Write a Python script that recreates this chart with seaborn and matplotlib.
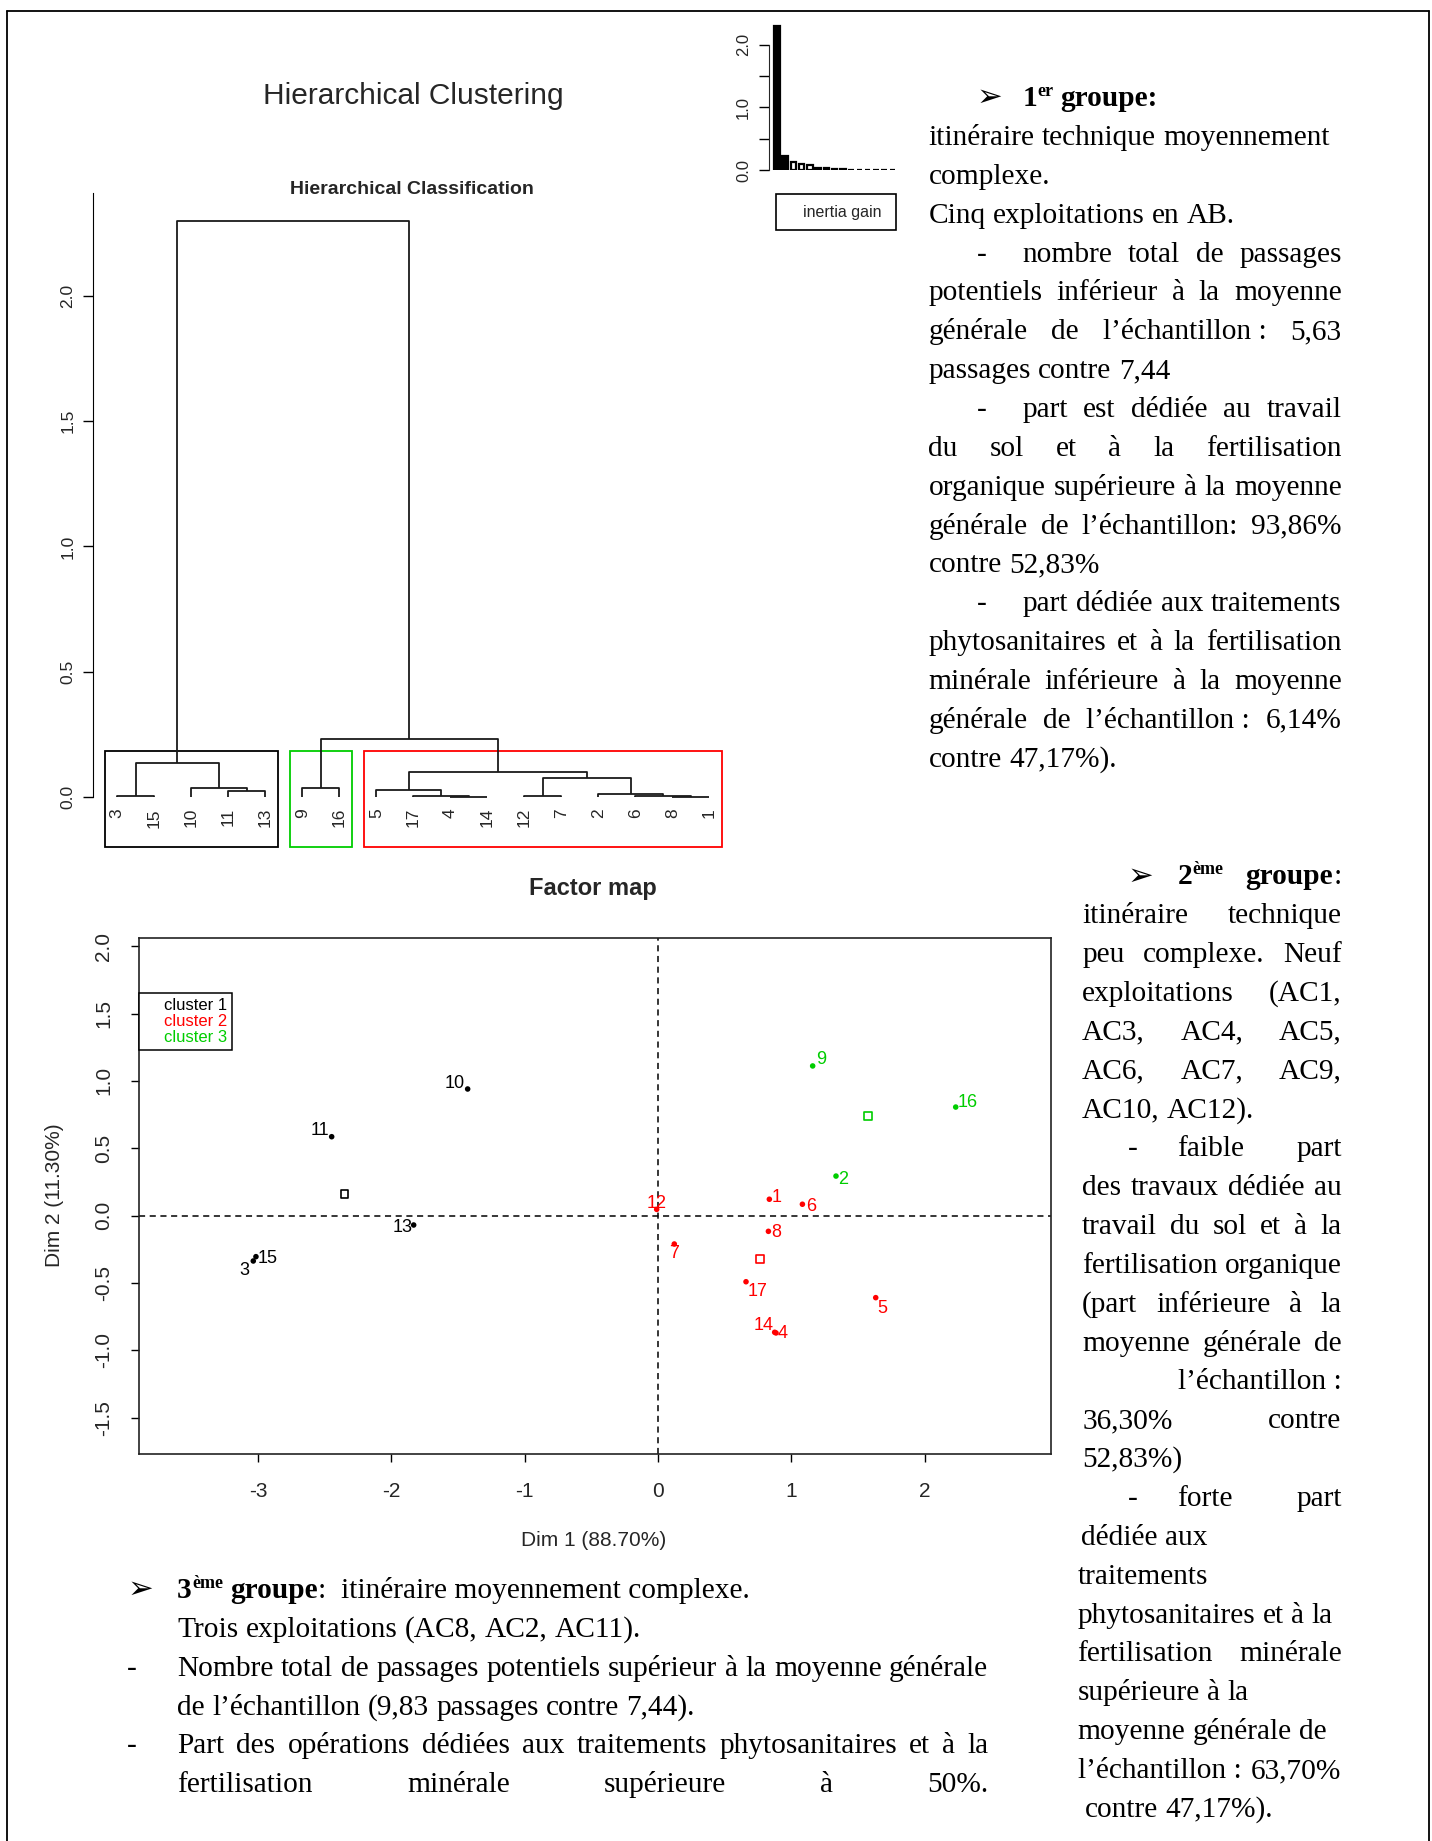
import numpy as np
import pandas as pd
import matplotlib
matplotlib.use("Agg")
import matplotlib.pyplot as plt
import seaborn as sns
from matplotlib.lines import Line2D
from matplotlib.patches import Rectangle

W, H = 1432, 1841
S = W / 1220  # text positions were read on a 1220 px wide preview

# --- HCPC tree: leaf order, cluster of each leaf, merges (R hclust style) ---
leaf_order = [3, 15, 10, 11, 13, 9, 16, 5, 17, 4, 14, 12, 7, 2, 6, 8, 1]
tree_cluster = [1, 1, 1, 1, 1, 3, 3, 2, 2, 2, 2, 2, 2, 2, 2, 2, 2]
merge_a = [-4, -8, -12, -3, -17, -6, -2, -11, -5, -10, -9, 3, 9, 4, 11, 14]
merge_b = [-14, -1, -7, -15, 1, 2, 6, -13, 5, 8, -16, 7, 12, 10, 13, 15]
merge_h = [0.001, 0.001, 0.002, 0.003, 0.004, 0.005, 0.011, 0.023, 0.027,
           0.034, 0.035, 0.075, 0.10, 0.135, 0.23, 2.30]

# --- factor map ---
ind = list(range(1, 18))
dim1 = [0.835, 1.335, -3.036, 0.885, 1.633, 1.083, 0.122, 0.828, 1.160,
        -1.428, -2.448, -0.010, -1.833, 0.875, -3.016, 2.233, 0.660]
dim2 = [0.122, 0.294, -0.336, -0.870, -0.608, 0.085, -0.210, -0.116, 1.111,
        0.940, 0.586, 0.047, -0.069, -0.865, -0.304, 0.806, -0.490]
clust = [2, 3, 1, 2, 2, 2, 2, 2, 3, 1, 1, 2, 1, 2, 1, 3, 2]

# label offsets (pixels) around each point, as placed in the original
lab_off = {1: (7, 2), 2: (7, -3), 3: (-9, -10), 4: (7, -1), 5: (7, -11),
           6: (9, -2), 7: (0, -10), 8: (8, -1), 9: (9, 6), 10: (-13, 5),
           11: (-12, 6), 12: (0, 6), 13: (-11, -3), 14: (-11, 7),
           15: (12, -2), 16: (12, 5), 17: (12, -10)}

# --- text blocks: (text, x start in preview px, mode) ---
col1 = [
    ("itinéraire technique moyennement", 791, "l"),
    ("complexe.", 791, "l"),
    ("Cinq exploitations en AB.", 791, "l"),
    ("- nombre total de passages", 871, "j"),
    ("potentiels inférieur à la moyenne", 791, "j"),
    ("générale de l’échantillon\u00a0: 5,63", 791, "j"),
    ("passages contre 7,44", 791, "l"),
    ("- part est dédiée au travail", 871, "j"),
    ("du sol et à la fertilisation", 791, "j"),
    ("organique supérieure à la moyenne", 791, "j"),
    ("générale de l’échantillon: 93,86%", 791, "j"),
    ("contre 52,83%", 791, "l"),
    ("- part dédiée aux traitements", 871, "j"),
    ("phytosanitaires et à la fertilisation", 791, "j"),
    ("minérale inférieure à la moyenne", 791, "j"),
    ("générale de l’échantillon\u00a0: 6,14%", 791, "j"),
    ("contre 47,17%).", 791, "l"),
]
col2 = [
    ("itinéraire technique", 922, "j"),
    ("peu complexe. Neuf", 922, "j"),
    ("exploitations (AC1,", 922, "j"),
    ("AC3, AC4, AC5,", 922, "j"),
    ("AC6, AC7, AC9,", 922, "j"),
    ("AC10, AC12).", 922, "l"),
    ("- faible part", 1003, "j"),
    ("des travaux dédiée au", 922, "j"),
    ("travail du sol et à la", 922, "j"),
    ("fertilisation organique", 922, "j"),
    ("(part inférieure à la", 922, "j"),
    ("moyenne générale de", 922, "j"),
    ("l’échantillon\u00a0:", 1005, "r"),
    ("36,30% contre", 922, "j"),
    ("52,83%)", 922, "l"),
    ("- forte part", 1003, "j"),
    ("dédiée aux", 921, "l"),
    ("traitements", 918, "l"),
    ("phytosanitaires et à la", 918, "l"),
    ("fertilisation minérale", 918, "j"),
    ("supérieure à la", 918, "l"),
    ("moyenne générale de", 918, "l"),
    ("l’échantillon\u00a0: 63,70%", 918, "j"),
    ("contre 47,17%).", 924, "l"),
]
col3 = [
    ("Trois exploitations (AC8, AC2, AC11).", 151, "l"),
    ("- Nombre total de passages potentiels supérieur à la moyenne générale", 151, "j"),
    ("de l’échantillon (9,83 passages contre 7,44).", 151, "l"),
    ("- Part des opérations dédiées aux traitements phytosanitaires et à la", 151, "j"),
    ("fertilisation minérale supérieure à 50%.", 151, "j"),
]

sns.set_style("ticks")
plt.rcParams["font.family"] = ["Liberation Sans", "DejaVu Sans"]
plt.rcParams["axes.unicode_minus"] = False
SERIF = ["Liberation Serif", "DejaVu Serif"]
GREEN = "#00CD00"
cmap = {1: "black", 2: "#FF0000", 3: GREEN}

fig = plt.figure(figsize=(W / 100, H / 100), dpi=100)
rend = fig.canvas.get_renderer()


def put(s, x, y, **kw):
    # x, y in figure pixels from the top-left corner
    return fig.text(x / W, 1 - y / H, s, **kw)


def width(s, **kw):
    t = put(s, 0, 0, **kw)
    w = t.get_window_extent(rend).width
    t.remove()
    return w


def axes_px(l, t, r, b):
    return fig.add_axes([l / W, 1 - b / H, (r - l) / W, (b - t) / H])


# ---------------- dendrogram ----------------
axd = axes_px(93.3, 193.1, 735.2, 849.6)
xpos, ypos = {}, {}
for i, lf in enumerate(leaf_order):
    xpos[-lf], ypos[-lf] = i + 1, 0.0
for k, (a, b, h) in enumerate(zip(merge_a, merge_b, merge_h), start=1):
    axd.plot([xpos[a], xpos[a], xpos[b], xpos[b]], [ypos[a], h, h, ypos[b]],
             color="#1a1a1a", lw=1.3, solid_capstyle="butt")
    xpos[k], ypos[k] = (xpos[a] + xpos[b]) / 2, h
for i, lf in enumerate(leaf_order):
    axd.text(i + 1, -0.044, str(lf), rotation=90, ha="center", va="top", fontsize=12.5)

hs = sorted(merge_h, reverse=True)
box_top = (hs[1] + hs[2]) / 2
start = 0
for c in [1, 3, 2]:
    n = tree_cluster.count(c)
    axd.add_patch(Rectangle((start + 0.66, -0.2), n - 0.33, box_top + 0.2, fill=False,
                            ec=cmap[c], lw=1.3, clip_on=False))
    start += n
axd.set_xlim(0.351, 17.7)
axd.set_ylim(-0.21, 2.41)
for s in ["top", "right", "bottom"]:
    axd.spines[s].set_visible(False)
axd.spines["left"].set_bounds(0, 2.41)
axd.spines["left"].set_color("black")
axd.set_xticks([])
axd.set_yticks([0, 0.5, 1, 1.5, 2])
axd.set_yticklabels(["0.0", "0.5", "1.0", "1.5", "2.0"], rotation=90, va="center", fontsize=12.5)
axd.tick_params(axis="y", length=7, width=1, pad=6, color="black")
put("Hierarchical Classification", 412, 189, ha="center", va="center", fontsize=14, fontweight="bold")
put("Hierarchical Clustering", 413, 96, ha="center", va="center", fontsize=21.5)

# ---------------- inertia gain ----------------
axi = axes_px(769, 16, 900.3, 170.2)
gains = hs[:15]
sns.barplot(x=list(range(15)), y=gains, color="white", edgecolor="black",
            linewidth=1.6, width=0.65, ax=axi)
for p in axi.patches[:2]:
    p.set_facecolor("black")
axi.set_xlim(-0.96, 14.96)
axi.set_ylim(0, 2.455)
for s in ["top", "right", "bottom"]:
    axi.spines[s].set_visible(False)
axi.spines["left"].set_bounds(0, 2)
axi.set_xticks([])
axi.set_xlabel("")
axi.set_yticks([0, 0.5, 1, 1.5, 2])
axi.set_yticklabels(["0.0", "", "1.0", "", "2.0"], rotation=90, va="center", fontsize=12)
axi.tick_params(axis="y", length=7, width=1, pad=6, color="black")
fig.add_artist(Rectangle((776 / W, 1 - 230 / H), 120 / W, 36 / H, transform=fig.transFigure,
                         fill=False, ec="black", lw=1.2))
put("inertia gain", 842, 212, ha="center", va="center", fontsize=11.5)

# ---------------- factor map ----------------
axf = axes_px(138.5, 937.9, 1050.5, 1454.4)
df = pd.DataFrame({"ind": ind, "Dim1": dim1, "Dim2": dim2, "cluster": clust})
axf.axhline(0, color="black", lw=1.1, ls=(0, (4, 3)))
axf.axvline(0, color="black", lw=1.1, ls=(0, (4, 3)))
sns.scatterplot(data=df, x="Dim1", y="Dim2", hue="cluster", palette=cmap, s=16,
                linewidth=0, legend=False, ax=axf, zorder=3)
cent = df.groupby("cluster")[["Dim1", "Dim2"]].mean()
axf.scatter(cent["Dim1"], cent["Dim2"], marker="s", s=32, facecolors="none",
            edgecolors=[cmap[c] for c in cent.index], linewidths=1.2, zorder=3)
for _, r in df.iterrows():
    dx, dy = lab_off[r["ind"]]
    axf.annotate(str(int(r["ind"])), (r["Dim1"], r["Dim2"]), xytext=(dx * 0.72, dy * 0.72),
                 textcoords="offset points", ha="center", va="center", fontsize=13,
                 color=cmap[int(r["cluster"])])
axf.set_xlim(-3.897, 2.944)
axf.set_ylim(-1.771, 2.061)
axf.set_xticks([-3, -2, -1, 0, 1, 2])
axf.set_xticklabels(["-3", "-2", "-1", "0", "1", "2"], fontsize=15)
axf.set_yticks([-1.5, -1, -0.5, 0, 0.5, 1, 1.5, 2])
axf.set_yticklabels(["-1.5", "-1.0", "-0.5", "0.0", "0.5", "1.0", "1.5", "2.0"],
                    rotation=90, va="center", fontsize=15)
axf.tick_params(axis="x", length=6, width=1, pad=14, color="black")
axf.tick_params(axis="y", length=6, width=1, pad=12, color="black")
for s in axf.spines.values():
    s.set_color("#222222")
    s.set_linewidth(1.2)
axf.set_xlabel("")
axf.set_ylabel("")
leg = axf.legend(handles=[Line2D([], [], ls="none")] * 3,
                 labels=["cluster 1", "cluster 2", "cluster 3"],
                 labelcolor=[cmap[1], cmap[2], cmap[3]], loc="upper left",
                 bbox_to_anchor=(0, 0.8933), fontsize=12, handlelength=1.0,
                 handletextpad=0.2, borderpad=0.3, labelspacing=0.05,
                 frameon=True, fancybox=False, framealpha=1, edgecolor="black",
                 borderaxespad=0)
leg.get_frame().set_linewidth(1.1)
put("Factor map", 593, 889, ha="center", va="center", fontsize=17, fontweight="bold")
put("Dim 1 (88.70%)", 594, 1541, ha="center", va="center", fontsize=15)
put("Dim 2 (11.30%)", 55, 1195, ha="center", va="center", fontsize=15, rotation=90)

# ---------------- text blocks ----------------
fs = 20 * 401.4 / width("itinéraire technique moyennement", fontsize=20, family=SERIF)
TXT = dict(fontsize=fs, family=SERIF, color="black")
space = width("n n", **TXT) - width("nn", **TXT)
LS = 33.1


def text_line(s, x0, x1, y, mode, dash_x=None):
    if s.startswith("- "):
        put("-", dash_x, y, ha="center", va="baseline", **TXT)
        s = s[2:]
    words = s.split(" ")
    ws = [width(w, **TXT) for w in words]
    gap = space
    if mode == "j" and len(words) > 1:
        gap = (x1 - x0 - sum(ws)) / (len(words) - 1)
    x = x0
    if mode == "r":
        x = x1 - sum(ws) - gap * (len(words) - 1)
    for w, wd in zip(words, ws):
        put(w, x, y, ha="left", va="baseline", **TXT)
        x += wd + gap


def block(lines, y0, x1, dash_x):
    for i, (s, x0, mode) in enumerate(lines):
        text_line(s, x0 * S, x1 * S, (y0 + i * LS) * S + 10, mode, dash_x * S)


block(col1, 115, 1143, 836)
block(col2, 778, 1143, 965)
block(col3, 1386, 842, 112)

BOLD = dict(TXT, fontweight="bold")
SUP = dict(BOLD, fontsize=fs * 0.62)
ARROW = dict(fontsize=fs * 1.05, family=["DejaVu Sans"], color="black", fontweight="bold")
rise = fs * 100 / 72 * 0.36

# 1er groupe
y = 82 * S + 10
put("\u27a2", 843 * S, y, ha="center", va="baseline", **ARROW)
x = 871 * S
put("1", x, y, ha="left", va="baseline", **BOLD)
x += width("1", **BOLD)
put("er", x, y - rise, ha="left", va="baseline", **SUP)
x += width("er", **SUP) + width("n n", **BOLD) - width("nn", **BOLD)
put("groupe:", x, y, ha="left", va="baseline", **BOLD)

# 2eme groupe
y = 745 * S + 10
put("\u27a2", 972 * S, y, ha="center", va="baseline", **ARROW)
x = 1003 * S
put("2", x, y, ha="left", va="baseline", **BOLD)
put("ème", x + width("2", **BOLD), y - rise, ha="left", va="baseline", **SUP)
put(":", 1143 * S, y, ha="right", va="baseline", **TXT)
put("groupe", 1143 * S - width(":", **TXT), y, ha="right", va="baseline", **BOLD)

# 3eme groupe
y = 1353 * S + 10
put("\u27a2", 120 * S, y, ha="center", va="baseline", **ARROW)
x = 151 * S
put("3", x, y, ha="left", va="baseline", **BOLD)
x += width("3", **BOLD)
put("ème", x, y - rise, ha="left", va="baseline", **SUP)
x += width("ème", **SUP) + space
put("groupe", x, y, ha="left", va="baseline", **BOLD)
x += width("groupe", **BOLD)
put(":", x, y, ha="left", va="baseline", **TXT)
x += width(":", **TXT) + 2 * space
put("itinéraire moyennement complexe.", x, y, ha="left", va="baseline", **TXT)

# page frame
fig.add_artist(Line2D([7 / W, 7 / W], [0, 1 - 11 / H], transform=fig.transFigure, color="black", lw=1.3))
fig.add_artist(Line2D([7 / W, 1429 / W], [1 - 11 / H, 1 - 11 / H], transform=fig.transFigure, color="black", lw=1.3))
fig.add_artist(Line2D([1429 / W, 1429 / W], [0, 1 - 11 / H], transform=fig.transFigure, color="black", lw=1.3))

fig.savefig("out.png", dpi=100)
